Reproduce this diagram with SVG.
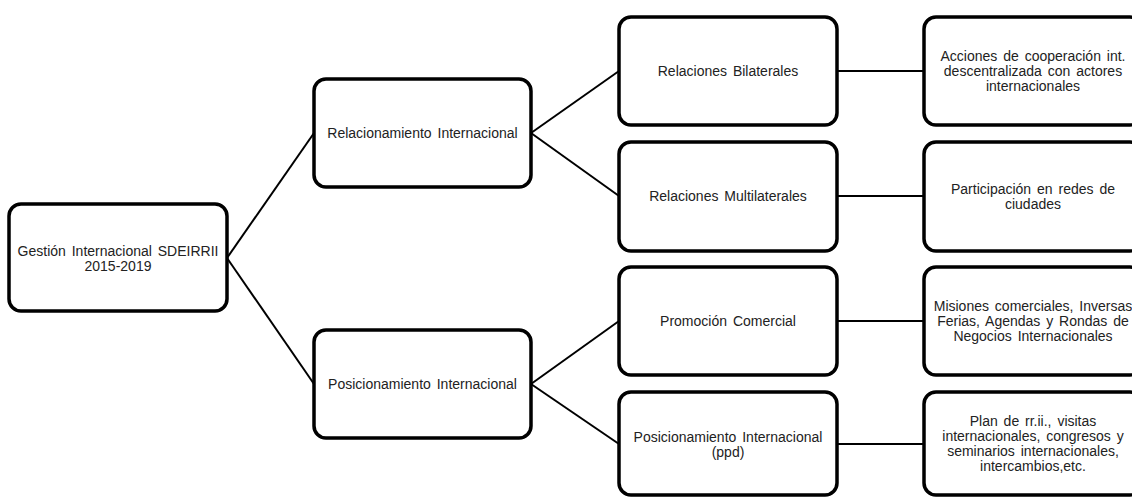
<svg xmlns="http://www.w3.org/2000/svg" width="1132" height="498" viewBox="0 0 1132 498">
<style>
.box{fill:#fff;stroke:#000;stroke-width:3.5}
.t{font-family:"Liberation Sans",Arial,sans-serif;font-size:14px;fill:#222;text-anchor:middle;word-spacing:2px}
.c{stroke:#000;stroke-width:2;fill:none}
</style>
<rect width="1132" height="498" fill="#fff"/>
<g id="connectors">
<line class="c" x1="227" y1="258" x2="314" y2="133"/>
<line class="c" x1="227" y1="258" x2="314" y2="384"/>
<line class="c" x1="531" y1="133" x2="619" y2="71"/>
<line class="c" x1="531" y1="133" x2="619" y2="196"/>
<line class="c" x1="531" y1="384" x2="619" y2="321"/>
<line class="c" x1="531" y1="384" x2="619" y2="444"/>
<line class="c" x1="837" y1="71" x2="924" y2="71"/>
<line class="c" x1="837" y1="196" x2="924" y2="196"/>
<line class="c" x1="837" y1="321" x2="924" y2="321"/>
<line class="c" x1="837" y1="444" x2="924" y2="444"/>
</g>
<g id="root">
<rect class="box" x="9" y="204" width="218" height="107" rx="12"/>
<text class="t" x="118" y="255.5">Gestión Internacional SDEIRRII</text>
<text class="t" x="118" y="270.5">2015-2019</text>
</g>
<g id="relacionamiento">
<rect class="box" x="314" y="79" width="217" height="108" rx="12"/>
<text class="t" x="422.5" y="138">Relacionamiento Internacional</text>
</g>
<g id="posicionamiento">
<rect class="box" x="314" y="330" width="217" height="108" rx="12"/>
<text class="t" x="422.5" y="389">Posicionamiento Internacional</text>
</g>
<g id="bilaterales">
<rect class="box" x="619" y="17" width="218" height="108" rx="12"/>
<text class="t" x="728" y="76">Relaciones Bilaterales</text>
</g>
<g id="multilaterales">
<rect class="box" x="619" y="142" width="218" height="109" rx="12"/>
<text class="t" x="728" y="201">Relaciones Multilaterales</text>
</g>
<g id="promocion">
<rect class="box" x="619" y="267" width="218" height="108" rx="12"/>
<text class="t" x="728" y="326">Promoción Comercial</text>
</g>
<g id="posicionamiento-ppd">
<rect class="box" x="619" y="392" width="218" height="103" rx="12"/>
<text class="t" x="728" y="441.5">Posicionamiento Internacional</text>
<text class="t" x="728" y="456.5">(ppd)</text>
</g>
<g id="acciones">
<rect class="box" x="924" y="17" width="218" height="108" rx="12"/>
<text class="t" x="1033" y="61">Acciones de cooperación int.</text>
<text class="t" x="1033" y="76">descentralizada con actores</text>
<text class="t" x="1033" y="91">internacionales</text>
</g>
<g id="participacion">
<rect class="box" x="924" y="142" width="218" height="109" rx="12"/>
<text class="t" x="1033" y="193.5">Participación en redes de</text>
<text class="t" x="1033" y="208.5">ciudades</text>
</g>
<g id="misiones">
<rect class="box" x="924" y="267" width="218" height="108" rx="12"/>
<text class="t" x="1033" y="311">Misiones comerciales, Inversas</text>
<text class="t" x="1033" y="326">Ferias, Agendas y Rondas de</text>
<text class="t" x="1033" y="341">Negocios Internacionales</text>
</g>
<g id="plan">
<rect class="box" x="924" y="392" width="218" height="103" rx="12"/>
<text class="t" x="1033" y="426">Plan de rr.ii., visitas</text>
<text class="t" x="1033" y="441">internacionales, congresos y</text>
<text class="t" x="1033" y="456">seminarios internacionales,</text>
<text class="t" x="1033" y="471">intercambios,etc.</text>
</g>
</svg>
